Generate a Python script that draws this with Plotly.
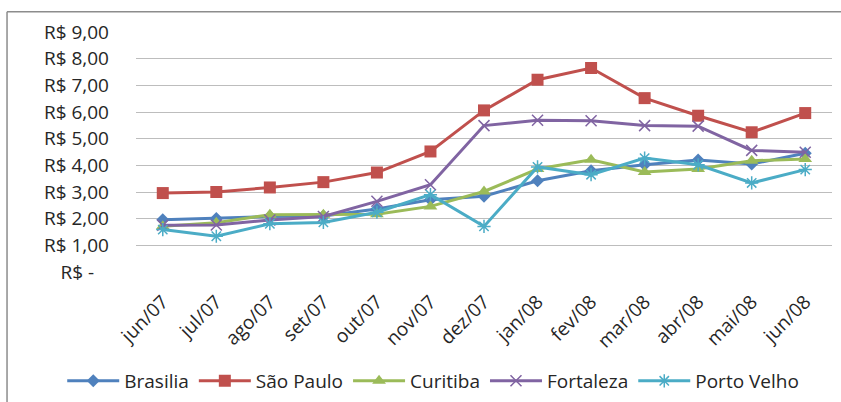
import plotly.graph_objects as go

months = ["jun/07", "jul/07", "ago/07", "set/07", "out/07", "nov/07", "dez/07",
          "jan/08", "fev/08", "mar/08", "abr/08", "mai/08", "jun/08"]

brasilia = [1.96, 2.01, 2.08, 2.10, 2.36, 2.71, 2.84, 3.42, 3.80, 4.02, 4.20, 4.05, 4.45]
sao_paulo = [2.96, 3.00, 3.17, 3.37, 3.73, 4.52, 6.06, 7.21, 7.65, 6.52, 5.86, 5.24, 5.96]
curitiba = [1.72, 1.85, 2.15, 2.15, 2.17, 2.46, 3.02, 3.86, 4.21, 3.75, 3.86, 4.17, 4.24]
fortaleza = [1.75, 1.76, 1.95, 2.08, 2.65, 3.27, 5.49, 5.69, 5.67, 5.49, 5.47, 4.56, 4.49]
porto_velho = [1.59, 1.34, 1.81, 1.86, 2.24, 2.90, 1.71, 3.94, 3.65, 4.27, 4.02, 3.34, 3.84]

y_ticks = [0, 1, 2, 3, 4, 5, 6, 7, 8, 9]
# accounting-style format: the zero label keeps trailing padding
y_labels = ["R$ -\u00a0\u00a0\u00a0", "R$ 1,00", "R$ 2,00", "R$ 3,00", "R$ 4,00",
            "R$ 5,00", "R$ 6,00", "R$ 7,00", "R$ 8,00", "R$ 9,00"]

FONT = "Open Sans"
TXT = "#262626"
FS = 19

series = [
    ("Brasilia", brasilia, "#4F81BD", dict(symbol="diamond", size=10)),
    ("São Paulo", sao_paulo, "#C0504D", dict(symbol="square", size=12)),
    ("Curitiba", curitiba, "#9BBB59", dict(symbol="triangle-up", size=12)),
    ("Fortaleza", fortaleza, "#8064A2",
     dict(symbol="x-thin-open", size=11, line=dict(width=1.5, color="#A898C6"))),
    ("Porto Velho", porto_velho, "#4BACC6",
     dict(symbol="asterisk-open", size=11, line=dict(width=1.5, color="#86CDE0"))),
]

fig = go.Figure()
for name, vals, color, marker in series:
    m = dict(color=color, **marker)
    fig.add_trace(go.Scatter(
        x=list(range(len(months))), y=vals, name=name, mode="lines+markers",
        line=dict(color=color, width=3), marker=m,
    ))

fig.update_layout(
    width=841, height=402,
    margin=dict(l=136, r=9, t=32, b=130, autoexpand=False),
    paper_bgcolor="white", plot_bgcolor="white",
    font=dict(family=FONT, size=FS, color=TXT),
    showlegend=True,
    # legend placed left of/below the plot area so it may span the full width
    legend=dict(orientation="h", x=-0.106, xanchor="left", y=-0.454, yanchor="middle",
                font=dict(family=FONT, size=FS, color=TXT),
                itemwidth=52, tracegroupgap=0),
    xaxis=dict(
        range=[-0.5, 12.5], tickmode="array",
        tickvals=list(range(len(months))), ticktext=months,
        tickangle=-45, showgrid=False, zeroline=False, showline=False,
        ticks="", ticklabelstandoff=14, automargin=False,
        tickfont=dict(family=FONT, size=FS, color=TXT),
    ),
    yaxis=dict(
        range=[0, 9], tickmode="array", tickvals=y_ticks, ticktext=y_labels,
        showgrid=True, gridcolor="#BDBDBD", gridwidth=1, zeroline=False,
        showline=False, ticks="", ticklabelstandoff=26, automargin=False,
        tickfont=dict(family=FONT, size=FS, color=TXT),
    ),
    shapes=[
        dict(type="line", xref="paper", yref="paper",
             x0=-0.1853, x1=1.02, y0=1.0846, y1=1.0846,
             line=dict(color="#8C8C8C", width=1.5)),
        dict(type="line", xref="paper", yref="paper",
             x0=-0.1853, x1=-0.1853, y0=1.0846, y1=-0.6,
             line=dict(color="#8C8C8C", width=1.5)),
    ],
)

fig.write_html("out.html")
